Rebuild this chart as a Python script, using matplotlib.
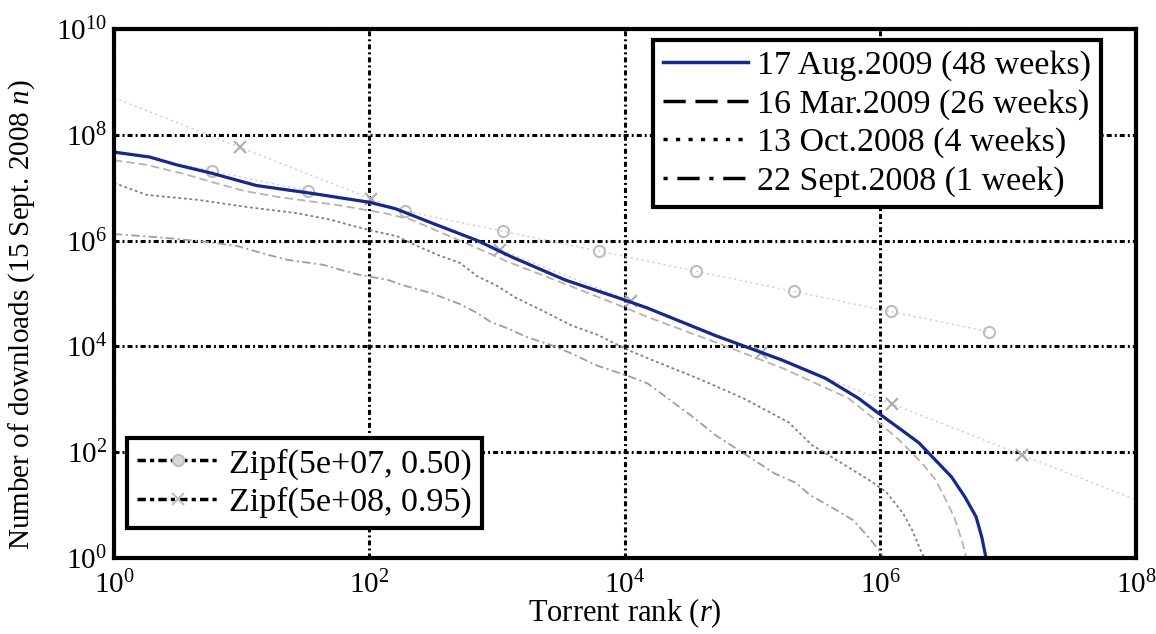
import numpy as np
import matplotlib
matplotlib.use("Agg")
import matplotlib.pyplot as plt
from matplotlib.lines import Line2D

plt.rcParams['font.family'] = ['Liberation Serif', 'DejaVu Serif']
plt.rcParams['mathtext.fontset'] = 'custom'
plt.rcParams['mathtext.rm'] = 'Liberation Serif'
plt.rcParams['mathtext.it'] = 'Liberation Serif:italic'
plt.rcParams['lines.scale_dashes'] = False

# download counts vs torrent rank, one snapshot per date
aug09_rank = [1, 1.9, 3.1, 5.7, 13, 34, 100, 160, 300, 700, 1300, 3400, 1.0e4, 1.5e4,
              5.1e4, 1.7e5, 3.7e5, 6.7e5, 9.6e5, 1.46e6, 2.0e6, 3.6e6, 4.6e6, 5.6e6,
              6.2e6, 6.7e6]
aug09_dl = [4.7e7, 3.8e7, 2.7e7, 1.9e7, 1.1e7, 7.9e6, 5.3e6, 4.0e6, 2.2e6, 1.0e6, 4.9e5,
            1.8e5, 7.5e4, 5.3e4, 1.6e4, 5.5e3, 2.5e3, 1.05e3, 550, 263, 150, 34, 14, 6,
            2.5, 1]

mar09_rank = [1, 1.8, 3.6, 5.7, 10.4, 19, 56, 131, 210, 700, 1200, 3000, 8800, 1.5e4,
              5.1e4, 1.7e5, 5.6e5, 9.6e5, 1.4e6, 2.1e6, 2.7e6, 3.2e6, 3.8e6, 4.4e6, 4.7e6]
mar09_dl = [3.3e7, 2.7e7, 1.8e7, 1.3e7, 8.7e6, 6.7e6, 4.7e6, 3.3e6, 2.5e6, 7.2e5, 4.0e5,
            1.7e5, 6.1e4, 3.6e4, 1.2e4, 3.9e3, 1.05e3, 370, 170, 63, 30, 13.5, 5.7, 1.9, 1]

oct08_rank = [1, 1.8, 4.5, 11, 27, 49, 74, 110, 166, 225, 360, 510, 700, 970, 1370, 2200,
              3800, 6100, 1.06e4, 1.8e4, 3.7e4, 8.4e4, 1.9e5, 2.9e5, 5.6e5, 8.1e5, 1.1e6,
              1.5e6, 1.8e6, 2.06e6, 2.2e6]
oct08_dl = [1.23e7, 7.3e6, 5.9e6, 4.3e6, 3.3e6, 2.5e6, 1.9e6, 1.5e6, 1.2e6, 8.3e5, 5.1e5,
            3.8e5, 2.1e5, 1.45e5, 8.5e4, 4.9e4, 2.5e4, 1.65e4, 8.5e3, 5.0e3, 2.5e3, 1.05e3,
            370, 137, 52, 30, 18, 7, 3.1, 1.4, 1]

sep08_rank = [1, 2.6, 5.4, 9.2, 16, 23, 43, 80, 140, 180, 310, 510, 670, 890, 1200, 1700,
              2600, 3600, 6100, 1.06e4, 1.5e4, 2.1e4, 3.5e4, 5.1e4, 1.5e5, 2.2e5, 2.8e5,
              4.1e5, 6.1e5, 7.8e5, 1.0e6, 1.06e6]
sep08_dl = [1.33e6, 1.12e6, 9.4e5, 7.9e5, 5.4e5, 4.3e5, 3.5e5, 2.3e5, 1.8e5, 1.45e5, 1.0e5,
            6.3e4, 4.5e4, 2.9e4, 2.2e4, 1.5e4, 1.07e4, 7.8e3, 4.3e3, 2.75e3, 2.0e3, 1.1e3,
            440, 210, 39, 26, 15.5, 9.2, 5.2, 2.7, 1.3, 1]

# Zipf fits: (scale, exponent), rank span, marker ranks
zipf_a = (5e7, 0.50)
zipf_a_span = [1, 7.1e6]
zipf_a_marks = [5.8, 33, 190, 1100, 6300, 3.6e4, 2.1e5, 1.2e6, 7.1e6]
zipf_b = (5e8, 0.95)
zipf_b_span = [1, 1e8]
zipf_b_marks = [9.7, 102, 1060, 1.11e4, 1.17e5, 1.22e6, 1.28e7]

series_labels = ['17 Aug.2009 (48 weeks)', '16 Mar.2009 (26 weeks)',
                 '13 Oct.2008 (4 weeks)', '22 Sept.2008 (1 week)']


def zipf(params, r):
    n, a = params
    return n * np.asarray(r, dtype=float) ** (-a)


fig = plt.figure(figsize=(11.56, 6.34), dpi=100)
ax = fig.add_axes([0.0986, 0.1199, 0.8841, 0.8344])
ax.set_xscale('log')
ax.set_yscale('log')

# zipf reference lines
ax.plot(zipf_a_span, zipf(zipf_a, zipf_a_span), color='0.8', lw=1.0, ls=(0, (1.5, 2.5)))
ax.plot(zipf_a_marks, zipf(zipf_a, zipf_a_marks), ls='none', marker='o', ms=8,
        mfc='none', mec='0.74', mew=1.5)
ax.plot(zipf_b_span, zipf(zipf_b, zipf_b_span), color='0.8', lw=1.0, ls=(0, (1.5, 2.5)))
ax.plot(zipf_b_marks, zipf(zipf_b, zipf_b_marks), ls='none', marker='x', ms=8,
        mec='0.68', mew=1.5)

# measured snapshots
ax.plot(sep08_rank, sep08_dl, color='0.62', lw=1.3, ls=(0, (6, 2.5, 1.5, 2.5)))
ax.plot(oct08_rank, oct08_dl, color='0.5', lw=1.3, ls=(0, (2, 2)))
ax.plot(mar09_rank, mar09_dl, color='0.7', lw=1.3, ls=(0, (6, 3)))
ax.plot(aug09_rank, aug09_dl, color='#15288c', lw=2.3, solid_capstyle='butt')

ax.set_xlim(1, 1e8)
ax.set_ylim(1, 1e10)
ax.set_xticks([1e0, 1e2, 1e4, 1e6, 1e8])
ax.set_yticks([1e0, 1e2, 1e4, 1e6, 1e8, 1e10])
ax.minorticks_off()
ax.tick_params(length=0, labelsize=21)
ax.tick_params(axis='x', pad=9)
ax.tick_params(axis='y', pad=5)
ax.grid(True, color='k', lw=2.2, ls=(0, (3.6, 2.2, 1.4, 2.2)))
ax.set_axisbelow(True)
for sp in ax.spines.values():
    sp.set_linewidth(3)

ax.set_xlabel('Torrent rank ($r$)', fontsize=22, labelpad=-2)
ax.set_ylabel('Number of downloads (15 Sept. 2008 $n$)', fontsize=21)
ax.yaxis.set_label_coords(-0.075, 0.46)

dated_handles = [
    Line2D([], [], color='#15288c', lw=2.5),
    Line2D([], [], color='k', lw=2.5, ls=(0, (16, 7))),
    Line2D([], [], color='k', lw=2.5, ls=(0, (3, 6))),
    Line2D([], [], color='k', lw=2.5, ls=(0, (3, 7, 16, 7))),
]
leg1 = fig.legend(dated_handles, series_labels, loc='upper left',
                  bbox_to_anchor=(0.565, 0.937), fontsize=24.5, frameon=True,
                  fancybox=False, edgecolor='k', framealpha=1, handlelength=2.5,
                  handletextpad=0.25, labelspacing=0.22, borderpad=0.3,
                  borderaxespad=0)
leg1.get_frame().set_linewidth(3)

zipf_handles = [
    Line2D([], [], color='k', lw=2.5, ls=(0, (6, 3, 3, 3)), marker='o', ms=8,
           mfc='0.85', mec='0.75', mew=1.5),
    Line2D([], [], color='k', lw=2.5, ls=(0, (6, 3, 3, 3)), marker='x', ms=8,
           mec='0.75', mew=1.5),
]
zipf_labels = ['Zipf(%.0e, %.2f)' % zipf_a, 'Zipf(%.0e, %.2f)' % zipf_b]
leg2 = fig.legend(zipf_handles, zipf_labels, loc='upper left', numpoints=1,
                  bbox_to_anchor=(0.110, 0.309), fontsize=24.5, frameon=True,
                  fancybox=False, edgecolor='k', framealpha=1, handlelength=2.4,
                  handletextpad=0.3, labelspacing=0.2, borderpad=0.3,
                  borderaxespad=0)
leg2.get_frame().set_linewidth(3)

fig.savefig('out.png', dpi=100)
